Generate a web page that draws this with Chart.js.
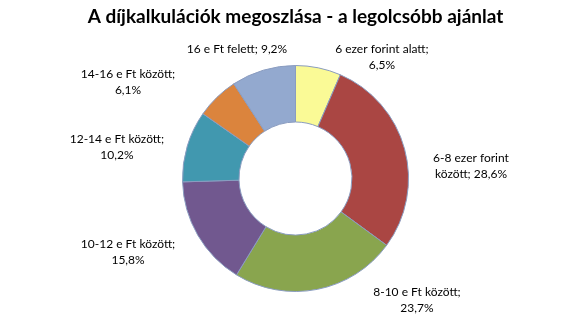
<!DOCTYPE html>
<html>
<head>
<meta charset="utf-8">
<script src="https://cdn.jsdelivr.net/npm/chart.js@4"></script>
<style>
  body { margin: 0; background: #fff; }
</style>
</head>
<body>
<canvas id="chart" width="588" height="326"></canvas>
<script>
const title = "A díjkalkulációk megoszlása - a legolcsóbb ajánlat";
const categories = [
  "6 ezer forint alatt",
  "6-8 ezer forint között",
  "8-10 e Ft között",
  "10-12 e Ft között",
  "12-14 e Ft között",
  "14-16 e Ft között",
  "16 e Ft felett",
];
const values = [6.5, 28.6, 23.7, 15.8, 10.2, 6.1, 9.2];
const colors = ["#FAFA96", "#AA4643", "#89A54E", "#71588F", "#4198AF", "#DB843D", "#93A9CF"];

// where each label sits, in units of the outer radius from the donut centre
const labelPos = [
  [0.765, -1.075],
  [1.553, -0.111],
  [1.075, 1.075],
  [-1.482, 0.65],
  [-1.58, -0.279],
  [-1.482, -0.854],
  [-0.518, -1.146],
];
const labelFont = "12px Lato";
const labelMaxWidth = 108;

function wrap(ctx, text, maxW) {
  const words = text.split(" ");
  const lines = [];
  let line = "";
  for (const w of words) {
    const test = line ? line + " " + w : w;
    if (line && ctx.measureText(test).width > maxW) {
      lines.push(line);
      line = w;
    } else {
      line = test;
    }
  }
  lines.push(line);
  return lines;
}

const labelPlugin = {
  id: "sliceLabels",
  afterDatasetsDraw(chart) {
    const ctx = chart.ctx;
    const meta = chart.getDatasetMeta(0);
    ctx.save();
    ctx.font = labelFont;
    ctx.fillStyle = "#000";
    ctx.textAlign = "center";
    ctx.textBaseline = "middle";
    meta.data.forEach((arc, i) => {
      const r = arc.outerRadius;
      const x = arc.x + labelPos[i][0] * r;
      const y = arc.y + labelPos[i][1] * r;
      const text = categories[i] + "; " + values[i].toFixed(1).replace(".", ",") + "%";
      const lines = wrap(ctx, text, labelMaxWidth);
      const lh = 16;
      lines.forEach((l, k) => {
        ctx.fillText(l, x, y + (k - (lines.length - 1) / 2) * lh);
      });
    });
    ctx.restore();
  },
};

new Chart(document.getElementById("chart"), {
  type: "doughnut",
  data: {
    labels: categories,
    datasets: [
      {
        data: values,
        backgroundColor: colors,
        borderColor: "#8a9cc0",
        borderWidth: 1,
      },
    ],
  },
  options: {
    responsive: false,
    animation: false,
    cutout: "50%",
    layout: { padding: { left: 3, bottom: 34 } },
    plugins: {
      legend: { display: false },
      tooltip: { enabled: false },
      title: {
        display: true,
        text: title,
        color: "#000",
        font: { family: "Lato", size: 19, weight: "bold" },
        padding: { top: 5.6, bottom: 36.6 },
      },
    },
  },
  plugins: [labelPlugin],
});
</script>
</body>
</html>
